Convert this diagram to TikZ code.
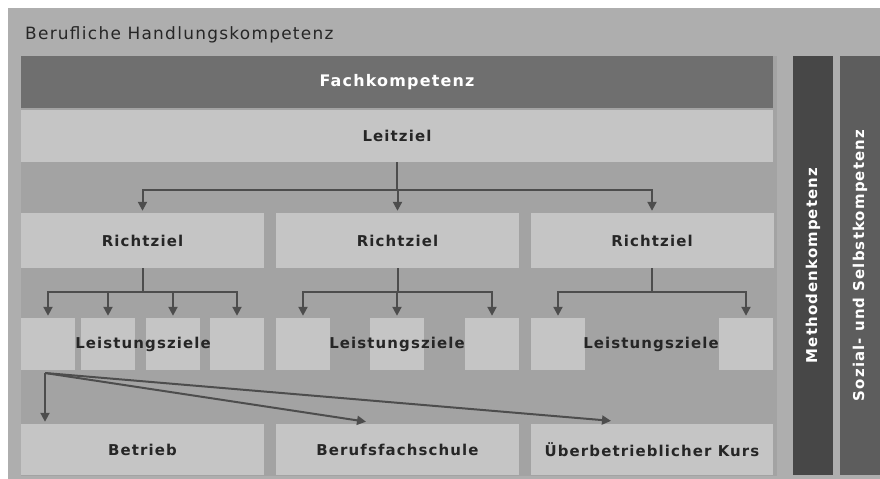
\documentclass[tikz,border=0pt]{standalone}
\usepackage{fontspec}
\setmainfont{DejaVu Sans}[LetterSpace=7.5]
\usetikzlibrary{arrows.meta}
\definecolor{outergray}{HTML}{AEAEAE}
\definecolor{panelgray}{HTML}{A3A3A3}
\definecolor{boxgray}{HTML}{C5C5C5}
\definecolor{fachgray}{HTML}{6F6F6F}
\definecolor{methgray}{HTML}{474747}
\definecolor{sozgray}{HTML}{5D5D5D}
\definecolor{arrgray}{HTML}{4D4D4D}
\definecolor{textdark}{HTML}{262626}
\newcommand{\lzbox}[2]{\node[box,minimum width=54bp,minimum height=52bp] (#1) at (#2,344) {};}

\begin{document}
\begin{tikzpicture}[x=1bp,y=-1bp,>={Triangle[length=9bp,width=9bp]},
  box/.style={fill=boxgray,inner sep=0pt,text=textdark,font=\bfseries\fontsize{15}{18}\selectfont},
  vbar/.style={inner sep=0pt,rotate=90,text=white,minimum width=419bp,minimum height=40bp,font=\bfseries\fontsize{15}{18}\selectfont},
  arr/.style={->,line width=2bp,draw=arrgray,shorten >=2bp}]
  \useasboundingbox (0,0) rectangle (880,479);

  % hintergrund
  \fill[white] (0,0) rectangle (880,479);
  \fill[outergray] (8,8) rectangle (880,479);
  \fill[panelgray] (21,56) rectangle (777,476);
  \node[anchor=west,inner sep=0pt,text=textdark,font=\fontsize{17}{20}\selectfont] (title) at (25,35) {Berufliche Handlungskompetenz};

  % fachkompetenz und leitziel
  \node[box,fill=fachgray,text=white,minimum width=752bp,minimum height=52bp,font=\bfseries\fontsize{16}{19}\selectfont] (fach) at (397,82) {Fachkompetenz};
  \node[box,minimum width=752bp,minimum height=52bp] (leit) at (397,136) {Leitziel};

  % richtziele
  \foreach \i/\x in {1/142.5,2/397.5,3/652}
    \node[box,minimum width=243bp,minimum height=55bp] (r\i) at (\x,240.5) {Richtziel};

  % leistungsziele
  \lzbox{l1a}{48} \lzbox{l1b}{108} \lzbox{l1c}{173} \lzbox{l1d}{237}
  \lzbox{l2a}{303} \lzbox{l2b}{397} \lzbox{l2c}{492}
  \lzbox{l3a}{558} \lzbox{l3b}{746}
  \foreach \i/\x in {1/143,2/397,3/651}
    \node[box,fill=none] (lz\i) at (\x,344) {Leistungsziele};

  % lernorte
  \node[box,minimum width=243bp,minimum height=51bp] (betrieb) at (142.5,449.5) {Betrieb};
  \node[box,minimum width=243bp,minimum height=51bp] (schule) at (397.5,449.5) {Berufsfachschule};
  \node[box,minimum width=242bp,minimum height=51bp] (kurs) at (652,449.5) {Überbetrieblicher Kurs};

  % seitliche kompetenzen
  \node[vbar,fill=methgray] (meth) at (813,265.5) {Methodenkompetenz};
  \node[vbar,fill=sozgray] (soz) at (860,265.5) {Sozial- und Selbstkompetenz};

  % pfeile
  \foreach \i in {1,2,3}
    \draw[arr] (leit.south) -- ++(0,28) -| (r\i.north);
  \foreach \t in {l1a,l1b,l1c,l1d}
    \draw[arr] (r1.south) -- ++(0,24) -| (\t.north);
  \foreach \t in {l2a,l2b,l2c}
    \draw[arr] (r2.south) -- ++(0,24) -| (\t.north);
  \foreach \t in {l3a,l3b}
    \draw[arr] (r3.south) -- ++(0,24) -| (\t.north);

  \coordinate (fork) at (45,373);
  \coordinate (endS) at (368,422);
  \coordinate (endK) at (613,421);
  \draw[arr] (fork) -- (fork |- betrieb.north);
  \draw[arr] (fork) -- (endS);
  \draw[arr] (fork) -- (endK);
\end{tikzpicture}
\end{document}
